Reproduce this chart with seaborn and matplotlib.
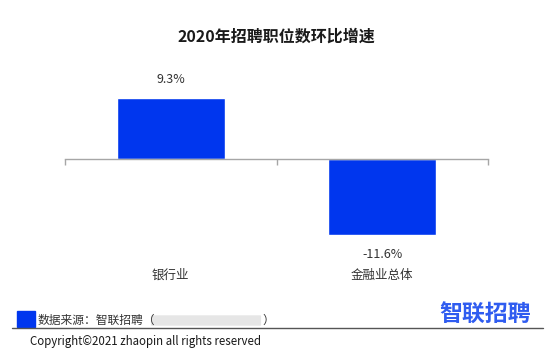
import matplotlib
matplotlib.use("Agg")
import matplotlib.pyplot as plt
import matplotlib.patches as mpatches
import pandas as pd
import seaborn as sns

categories = ["银行业", "金融业总体"]
values = [9.3, -11.6]
value_labels = ["9.3%", "-11.6%"]
title = "2020年招聘职位数环比增速"
source_text = "数据来源：智联招聘（"
logo_text = "智联招聘"
copyright_text = "Copyright©2021 zhaopin all rights reserved"

sns.set_style("white")
plt.rcParams['font.family'] = ['Noto Sans CJK SC', 'DejaVu Sans']

blue = "#0036ee"
data = pd.DataFrame({"cat": categories, "val": values})

fig = plt.figure(figsize=(5.53, 3.57), dpi=100)
ax = fig.add_axes([65 / 553, 1 - 260 / 357, 423 / 553, 190 / 357])

sns.barplot(data=data, x="cat", y="val", color=blue, width=0.51,
            saturation=1, ax=ax)

ax.set_xlim(-0.5, 1.5)
ax.set_ylim(-15.4, 13.57)
for s in ["top", "left", "right"]:
    ax.spines[s].set_visible(False)
ax.spines["bottom"].set_position(("data", 0))
ax.spines["bottom"].set_color("#a6a6a6")
ax.spines["bottom"].set_linewidth(1)
ax.set_yticks([])
ax.set_xlabel("")
ax.set_ylabel("")
ax.set_xticks([0, 1])
ax.set_xticklabels(categories, fontsize=9, color="#333333")
ax.tick_params(axis="x", which="major", length=0, pad=79)
ax.set_xticks([-0.5, 0.5, 1.5], minor=True)
ax.tick_params(axis="x", which="minor", bottom=True, length=4, width=1,
               color="#a6a6a6", direction="out")

for i, (v, lab) in enumerate(zip(values, value_labels)):
    off = 9 if v >= 0 else -9
    ax.annotate(lab, (i, v), xytext=(0, off), textcoords="offset points",
                ha="center", va="bottom" if v >= 0 else "top",
                fontsize=9, color="#333333")

fig.text(276 / 553, 1 - 37 / 357, title, ha="center", va="center",
         fontsize=11.5, fontweight="bold", color="#1a1a1a")

# footer
fig.patches.append(mpatches.Rectangle((17 / 553, 1 - 327 / 357), 18 / 553, 16 / 357,
                                      transform=fig.transFigure, color=blue))
fig.text(38 / 553, 1 - 320 / 357, source_text, ha="left", va="center",
         fontsize=8.5, color="#333333")
fig.patches.append(mpatches.FancyBboxPatch((152 / 553, 1 - 325 / 357), 108 / 553, 9 / 357,
                                           boxstyle="round,pad=0.002",
                                           transform=fig.transFigure,
                                           color="#e6e6e6", ec="none"))
fig.text(262 / 553, 1 - 320 / 357, "）", ha="left", va="center",
         fontsize=8.5, color="#333333")
fig.text(531 / 553, 1 - 315 / 357, logo_text, ha="right", va="center",
         fontsize=16.5, fontweight="bold", color="#2f5cf0")
fig.lines.append(plt.Line2D([12 / 553, 543 / 553], [1 - 327.5 / 357, 1 - 327.5 / 357],
                            transform=fig.transFigure, color="#555555", lw=1))
fig.text(30 / 553, 1 - 341 / 357, copyright_text, ha="left", va="center",
         fontsize=8.3, color="#1a1a1a")

fig.savefig("out.png", dpi=100)
